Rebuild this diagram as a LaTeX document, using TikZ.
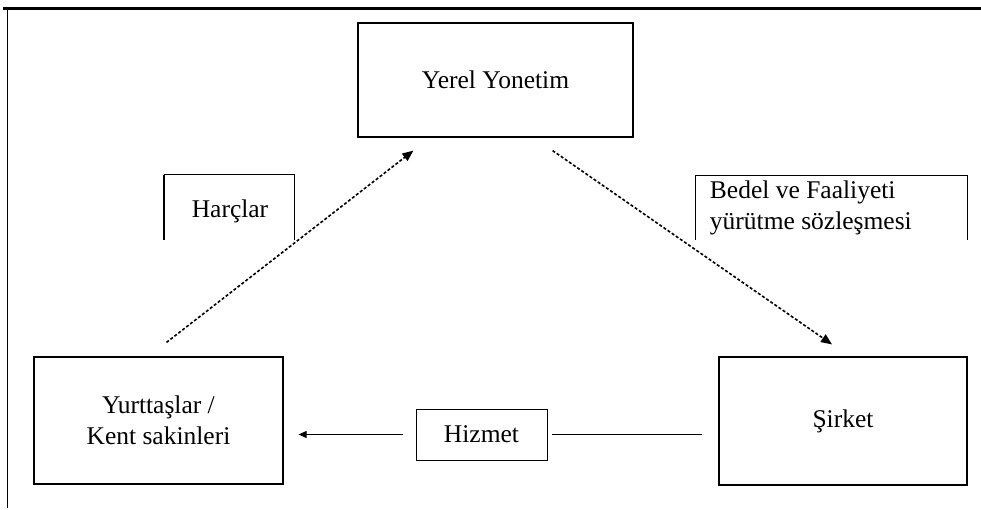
\documentclass[tikz,border=0pt]{standalone}
\usepackage{fontspec}
\setmainfont{Liberation Serif}
\usetikzlibrary{arrows.meta}

\begin{document}
\begin{tikzpicture}[x=1pt, y=-1pt, line width=1.2pt,
    font=\fontsize{25.5}{31}\selectfont,
    actor/.style={draw, rectangle, inner sep=0pt},
    flow/.style={densely dashed, line width=1.6pt, -{Triangle[length=11pt, width=9pt]}}]
  \useasboundingbox (0,0) rectangle (981,510);

  % page frame: heavy rule on top, thin rule down the left
  \draw[line width=3pt] (3,9) -- (981,9);
  \draw[line width=1pt] (7,9) -- (7,508);

  % the three parties
  \node[actor, minimum width=275, minimum height=114] (yerel) at (495.5,80) {Yerel Yonetim};
  \node[actor, minimum width=249, minimum height=127, align=center] (yurttas) at (158.5,420.5)
        {Yurttaşlar /\\ Kent sakinleri};
  \node[actor, minimum width=248, minimum height=128] (sirket) at (843,421) {Şirket};
  \node[actor, minimum width=131, minimum height=51, line width=1pt] (hizmet) at (481.5,434.5) {Hizmet};

  % money and contract flows (dashed)
  \draw[flow] ([xshift=8pt, yshift=14pt]yurttas.north) -- ([xshift=56pt, yshift=-13pt]yerel.south west);
  \draw[flow] ([xshift=-81pt, yshift=-13pt]yerel.south east) -- ([xshift=-11pt, yshift=12pt]sirket.north);

  % service line back to the citizens
  \draw[line width=1pt, shorten <=16pt, shorten >=4pt] (sirket.west |- hizmet.east) -- (hizmet.east);
  \draw[line width=1pt, shorten <=13pt, shorten >=15pt, -{Triangle[length=8pt, width=7pt]}]
       (hizmet.west) -- (yurttas.east |- hizmet.west);

  % open-bottom label boxes on the two dashed flows
  \draw[line width=1pt] (164,240) -- (164,175) -- (294,175) -- (294,240);
  \draw[line width=2pt] (164,240) -- (164,175);
  \node (harc) at (230,211) {Harçlar};
  \draw[line width=1pt] (695,240) -- (695,176) -- (967,176) -- (967,240);
  \node[anchor=west, align=left] (bedel) at (706,208) {Bedel ve Faaliyeti\\ yürütme sözleşmesi};
\end{tikzpicture}
\end{document}
